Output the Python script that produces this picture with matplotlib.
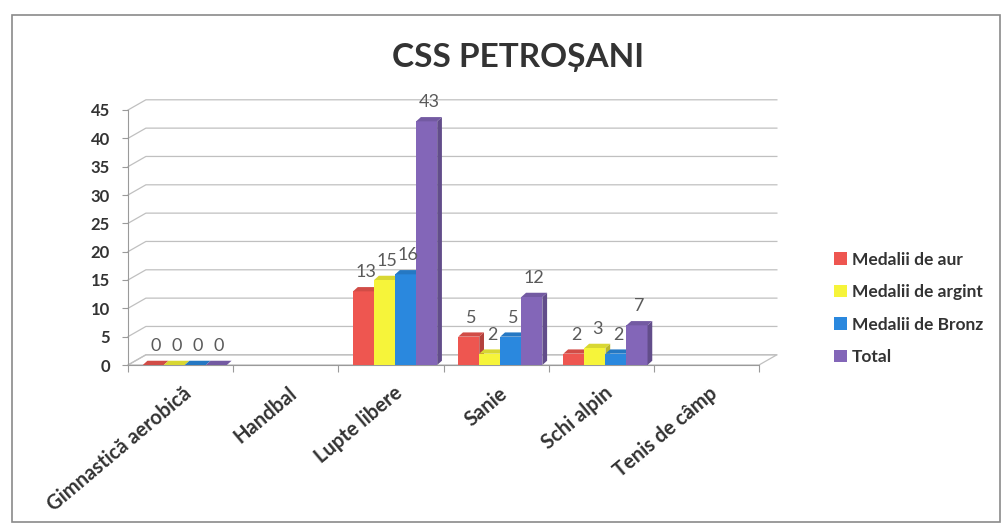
import matplotlib
matplotlib.use("Agg")
import matplotlib.pyplot as plt
from matplotlib.patches import Polygon, Rectangle
import numpy as np

plt.rcParams['font.family'] = ['Lato', 'DejaVu Sans']

title = "CSS PETROȘANI"
categories = ["Gimnastică aerobică", "Handbal", "Lupte libere", "Sanie", "Schi alpin", "Tenis de câmp"]
series_names = ["Medalii de aur", "Medalii de argint", "Medalii de Bronz", "Total"]
# None = no data for that sport
aur = [0, None, 13, 5, 2, None]
argint = [0, None, 15, 2, 3, None]
bronz = [0, None, 16, 5, 2, None]
total = [0, None, 43, 12, 7, None]
yticks = [0, 5, 10, 15, 20, 25, 30, 35, 40, 45]

colors = ["#EE5650", "#F6F43A", "#2A88DE", "#8366B8"]
series = [aur, argint, bronz, total]

def darker(c, f=0.75):
    rgb = matplotlib.colors.to_rgb(c)
    return tuple(x * f for x in rgb)

fig = plt.figure(figsize=(10.08, 5.26), dpi=100)
fig.patch.set_facecolor("white")
fig.patches.append(Rectangle((12 / 1008, 1 - 522 / 526), 988 / 1008, 507 / 526,
                             transform=fig.transFigure, fill=False, ec="#8a8a8a", lw=1.2))

ax = fig.add_axes([128 / 1008, 1 - 365 / 526, 631 / 1008, 255 / 526])
ax.set_xlim(0, 6)
ax.set_ylim(0, 45)

# pseudo 3d depth of the chart walls
dx, dy = 0.17, 1.8
grid_c = "#c0c0c0"
for v in yticks:
    ax.plot([0, dx, 6 + dx], [v, v + dy, v + dy], color=grid_c, lw=0.9, clip_on=False, zorder=1)
# floor
floor = Polygon([(0, 0), (6, 0), (6 + dx, dy), (dx, dy)], closed=True, fill=False,
                ec=grid_c, lw=0.9, clip_on=False, zorder=1)
ax.add_patch(floor)

# bars with small side/top faces
w = 0.2
bdx, bdy = 0.045, 0.75
for i, (vals, col) in enumerate(zip(series, colors)):
    for j, v in enumerate(vals):
        if v is None:
            continue
        x0 = j + 0.14 + i * w
        ax.bar(x0, v, width=w, align="edge", color=col, edgecolor="none", zorder=3 + i)
        side = Polygon([(x0 + w, 0), (x0 + w + bdx, bdy), (x0 + w + bdx, v + bdy), (x0 + w, v)],
                       closed=True, fc=darker(col), ec="none", zorder=3 + i, clip_on=False)
        top = Polygon([(x0, v), (x0 + w, v), (x0 + w + bdx, v + bdy), (x0 + bdx, v + bdy)],
                      closed=True, fc=darker(col, 0.88), ec="none", zorder=3 + i, clip_on=False)
        ax.add_patch(side)
        ax.add_patch(top)
        ax.text(x0 + w / 2 + bdx / 2, v + bdy + 1.2, str(v), ha="center", va="bottom",
                fontsize=13, color="#5a5a5a", zorder=10)

for s in ["top", "right"]:
    ax.spines[s].set_visible(False)
ax.spines["left"].set_color("#9a9a9a")
ax.spines["bottom"].set_color("#9a9a9a")

ax.set_yticks(yticks)
ax.set_yticklabels([str(v) for v in yticks], fontsize=12, fontweight="bold", color="#333333")
ax.tick_params(axis="y", length=4, color="#9a9a9a", pad=9)

ax.set_xticks(np.arange(0, 7))
ax.set_xticklabels([])
ax.tick_params(axis="x", length=5, color="#9a9a9a")
for j, c in enumerate(categories):
    ax.text(j + 0.52, -3.2, c, rotation=40, ha="right", va="top", rotation_mode="anchor",
            fontsize=14.5, fontweight="bold", color="#333333")

fig.text(518 / 1008, 1 - 57 / 526, title, ha="center", va="center", fontsize=24,
         fontweight="bold", color="#333333")

handles = [Rectangle((0, 0), 1, 1, fc=c, ec="none") for c in colors]
fig.legend(handles, series_names, loc="upper left", bbox_to_anchor=(818 / 1008, 1 - 236 / 526),
           frameon=False, handlelength=0.75, handleheight=0.75, handletextpad=0.3,
           labelspacing=0.95, prop={"weight": "bold", "size": 12.5})
for t in fig.legends[0].get_texts():
    t.set_color("#333333")

fig.savefig("out.png", dpi=100)
